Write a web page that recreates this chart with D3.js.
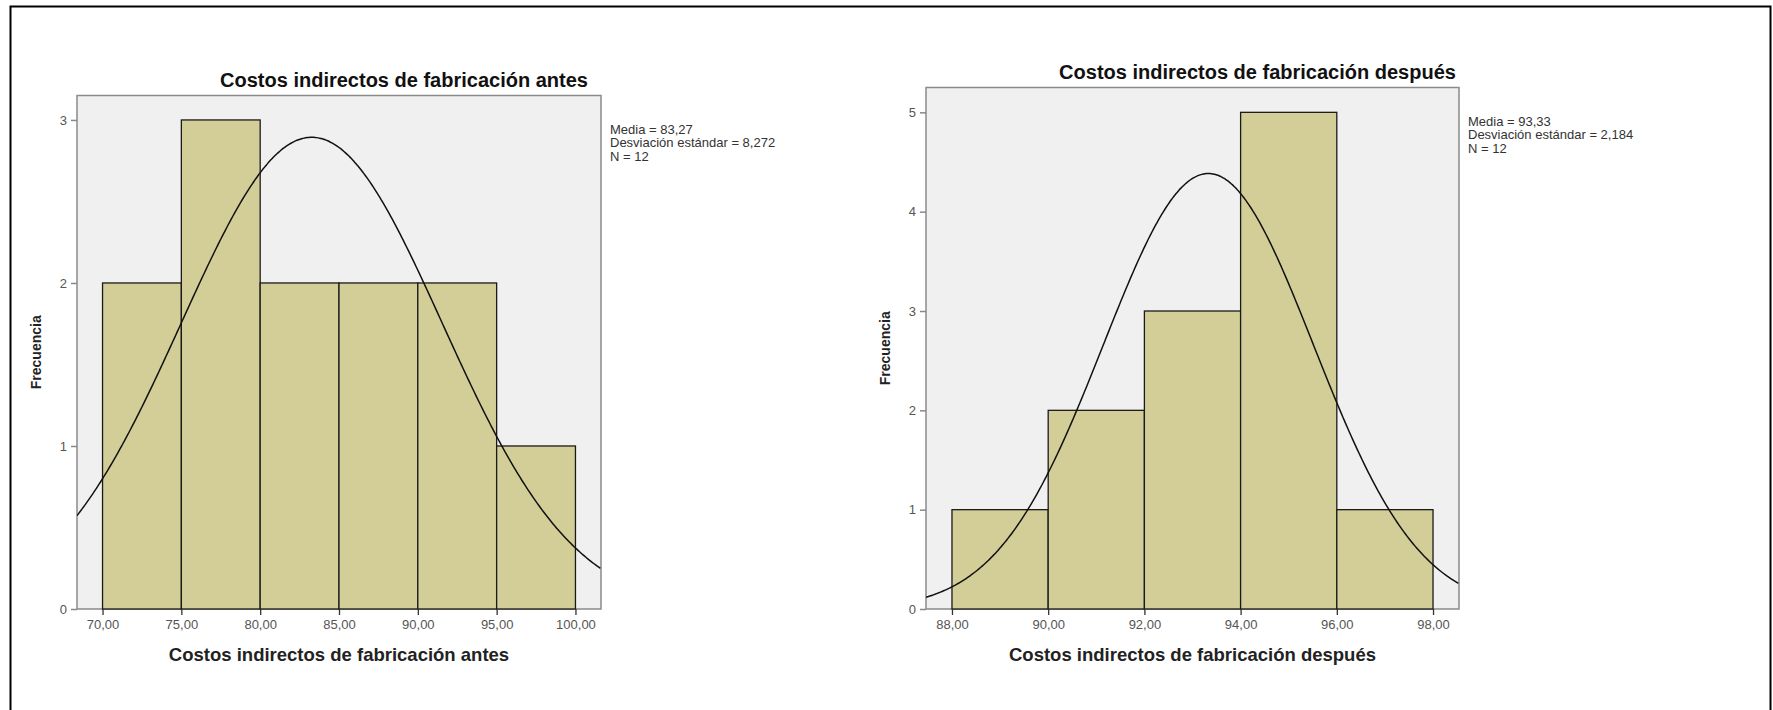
<!DOCTYPE html>
<html>
<head>
<meta charset="utf-8">
<script src="https://cdnjs.cloudflare.com/ajax/libs/d3/7.8.5/d3.min.js"></script>
<style>
  body { margin: 0; background: #fff; }
  text { font-family: "Liberation Sans", Arial, sans-serif; }
</style>
</head>
<body>
<script>
// Histogram data

var antesEdges = [70, 75, 80, 85, 90, 95, 100];
var antesCounts = [2, 3, 2, 2, 2, 1];
var antesTicksY = [0, 1, 2, 3];
var antesStats = {media: 83.27, sd: 8.272, n: 12};
var antesStatsText = ["Media = 83,27", "Desviación estándar = 8,272", "N = 12"];

var despuesEdges = [88, 90, 92, 94, 96, 98];
var despuesCounts = [1, 2, 3, 5, 1];
var despuesTicksY = [0, 1, 2, 3, 4, 5];
var despuesStats = {media: 93.33, sd: 2.184, n: 12};
var despuesStatsText = ["Media = 93,33", "Desviación estándar = 2,184", "N = 12"];

var titles = ["Costos indirectos de fabricación antes", "Costos indirectos de fabricación después"];
var yLabel = "Frecuencia";

var W = 1773, H = 710;

var svg = d3.select("body")
    .append("svg")
    .attr("width", W)
    .attr("height", H);

// outer frame of the picture (bottom is cut off)
svg.append("rect")
    .attr("x", 10.5).attr("y", 6.5)
    .attr("width", 1760).attr("height", 740)
    .attr("fill", "none")
    .attr("stroke", "#000")
    .attr("stroke-width", 2);

var locale = d3.formatLocale({decimal: ",", thousands: ".", grouping: [3], currency: ["", ""]});
var fmt = locale.format(".2f");

function drawHist(id, box, edges, counts, ticksY, stats, statsText, title) {
    var lo = edges[0], hi = edges[edges.length - 1];
    var pad = (hi - lo) * 0.054;

    var xScale = d3.scaleLinear().domain([lo - pad, hi + pad]).range([box.x0, box.x1]);
    var yScale = d3.scaleLinear().domain([0, d3.max(counts) * 1.05]).range([box.y1, box.y0]);

    var g = svg.append("g");

    // plot background
    g.append("rect")
        .attr("x", box.x0).attr("y", box.y0)
        .attr("width", box.x1 - box.x0).attr("height", box.y1 - box.y0)
        .attr("fill", "#f0f0f0")
        .attr("stroke", "#8a8a8a")
        .attr("stroke-width", 1.5);

    g.append("clipPath").attr("id", "clip" + id)
        .append("rect")
        .attr("x", box.x0).attr("y", box.y0)
        .attr("width", box.x1 - box.x0).attr("height", box.y1 - box.y0);

    var bins = counts.map(function(c, i) { return {a: edges[i], b: edges[i + 1], c: c}; });

    // bars
    g.selectAll(".bar")
        .data(bins)
        .enter().append("rect")
        .attr("class", "bar")
        .attr("x", function(d) { return xScale(d.a); })
        .attr("width", function(d) { return xScale(d.b) - xScale(d.a); })
        .attr("y", function(d) { return yScale(d.c); })
        .attr("height", function(d) { return yScale(0) - yScale(d.c); })
        .attr("fill", "#d3ce97")
        .attr("stroke", "#1a1a1a")
        .attr("stroke-width", 1.3);

    // normal curve from the mean / sd shown in the legend
    var bw = edges[1] - edges[0];
    var curveX = d3.range(lo - pad, hi + pad + 0.01, (hi - lo) / 300);
    var line = d3.line()
        .x(function(v) { return xScale(v); })
        .y(function(v) {
            var z = (v - stats.media) / stats.sd;
            return yScale(stats.n * bw * Math.exp(-0.5 * z * z) / (stats.sd * Math.sqrt(2 * Math.PI)));
        })
        .curve(d3.curveBasis);

    g.append("path")
        .datum(curveX)
        .attr("clip-path", "url(#clip" + id + ")")
        .attr("d", line)
        .attr("fill", "none")
        .attr("stroke", "#111")
        .attr("stroke-width", 1.5);

    // x axis
    var xAxis = g.append("g")
        .attr("transform", "translate(0," + box.y1 + ")")
        .call(d3.axisBottom(xScale).tickValues(edges).tickFormat(fmt).tickSize(6).tickPadding(5));
    xAxis.select(".domain").remove();
    xAxis.selectAll("line").attr("stroke", "#333").attr("stroke-width", 1.3);
    xAxis.selectAll("text").attr("fill", "#555").style("font-size", "13px")
        .style("font-family", "'Liberation Sans', Arial, sans-serif");

    // y axis
    var yAxis = g.append("g")
        .attr("transform", "translate(" + box.x0 + ",0)")
        .call(d3.axisLeft(yScale).tickValues(ticksY).tickFormat(d3.format("d")).tickSize(6).tickPadding(4));
    yAxis.select(".domain").remove();
    yAxis.selectAll("line").attr("stroke", "#888").attr("stroke-width", 1.5);
    yAxis.selectAll("text").attr("fill", "#555").style("font-size", "13px")
        .style("font-family", "'Liberation Sans', Arial, sans-serif");

    var cx = (box.x0 + box.x1) / 2, cy = (box.y0 + box.y1) / 2;

    // titles
    g.append("text")
        .attr("x", cx + 65).attr("y", box.y0 - 9)
        .attr("text-anchor", "middle")
        .attr("font-size", "20px").attr("font-weight", "bold")
        .attr("fill", "#111")
        .text(title);

    g.append("text")
        .attr("x", cx).attr("y", box.y1 + 52)
        .attr("text-anchor", "middle")
        .attr("font-size", "18.5px").attr("font-weight", "bold")
        .attr("fill", "#222")
        .text(title);

    g.append("text")
        .attr("transform", "translate(" + (box.x0 - 36) + "," + cy + ") rotate(-90)")
        .attr("text-anchor", "middle")
        .attr("font-size", "14px").attr("font-weight", "bold")
        .attr("fill", "#222")
        .text(yLabel);

    // legend text with stats
    g.selectAll(".stat")
        .data(statsText)
        .enter().append("text")
        .attr("class", "stat")
        .attr("x", box.x1 + 9)
        .attr("y", function(d, i) { return box.y0 + 38 + i * 13.5; })
        .attr("font-size", "13px")
        .attr("fill", "#333")
        .text(function(d) { return d; });
}

drawHist("a", {x0: 77, x1: 601, y0: 95.5, y1: 609}, antesEdges, antesCounts, antesTicksY, antesStats, antesStatsText, titles[0]);
drawHist("b", {x0: 926, x1: 1459, y0: 87.5, y1: 609}, despuesEdges, despuesCounts, despuesTicksY, despuesStats, despuesStatsText, titles[1]);
</script>
</body>
</html>
